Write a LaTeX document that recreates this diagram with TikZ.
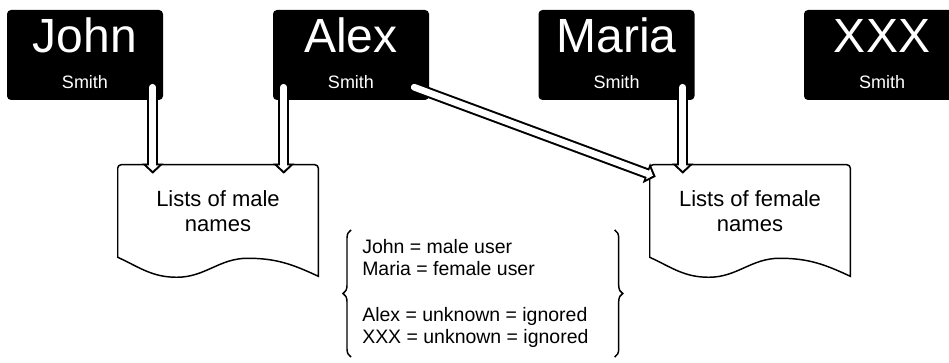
\documentclass[tikz,border=0pt]{standalone}
\usepackage{fontspec}
\setmainfont{Liberation Sans}
\usetikzlibrary{arrows.meta,calc,decorations.pathreplacing}

\tikzset{
	nome/.style={fill=black, text=white, rounded corners=3pt, minimum width=117pt, minimum height=67.5pt,
		inner sep=0pt, text height=26pt, text depth=29pt, font=\fontsize{36}{36}\selectfont},
	sobrenome/.style={text=white, anchor=base, yshift=9pt, font=\fontsize{13.5}{14}\selectfont},
	lista/.style={minimum width=150pt, minimum height=69pt, inner sep=0pt, align=center,
		font=\fontsize{16.5}{19}\selectfont},
	contorno/.style={line width=1.1pt},
	oca/.style={white, line width=5pt, line cap=round, -{Triangle[width=8.5pt,length=4pt]}, shorten >=2.2pt,
		preaction={draw=black, line width=8pt, -{Triangle[width=15.5pt,length=7.5pt]}, shorten >=0pt}},
	chave/.style={decorate, decoration={brace, amplitude=6pt}, line width=1.1pt}
}

\begin{document}
\begin{tikzpicture}[x=0.75pt, y=0.75pt]
	\useasboundingbox (0,0) rectangle (949,-363);
	
	% Caixas dos nomes
	\node[nome, label={[sobrenome]south:Smith}] (john) at (85,-55) {John};
	\node[nome, label={[sobrenome]south:Smith}] (alex) at (351,-55) {Alex};
	\node[nome, label={[sobrenome]south:Smith}] (maria) at (616.5,-55) {Maria};
	\node[nome, label={[sobrenome]south:Smith}] (xxx) at (882,-55) {XXX};
	
	% Listas (documentos)
	\node[lista] (male) at (218,-211) {Lists of male\\names};
	\node[lista] (female) at (750,-211) {Lists of female\\names};
	\foreach \d in {male,female}
		\draw[contorno] (\d.south west) [rounded corners=2.5pt] -- (\d.north west) -- (\d.north east) [sharp corners]
			-- ($(\d.south east)+(0,-19)$) to[out=155,in=0] ($(\d.south west)+(130,-1)$)
			to[out=180,in=0] ($(\d.south west)+(59,-20)$) to[out=180,in=-25] (\d.south west) -- cycle;
	
	% Setas
	\draw[oca] ($(john.south east)+(-10.5,13)$) coordinate (j) -- ([yshift=-6.75pt]j |- male.north);
	\draw[oca] ($(alex.south west)+(11,13)$) coordinate (a) -- ([yshift=-6.75pt]a |- male.north);
	\draw[oca] ($(alex.south east)+(-15,13)$) -- ($(female.north west)+(6,-12)$);
	\draw[oca] ($(maria.south east)+(-12,13)$) coordinate (m) -- ([yshift=-6.75pt]m |- female.north);
	
	% Legenda
	\node[anchor=west, inner sep=0pt, align=left, font=\fontsize{14.6}{16.9}\selectfont] (legenda) at (362,-293.5)
		{John = male user\\Maria = female user\\[16.9pt]Alex = unknown = ignored\\XXX = unknown = ignored};
	\draw[chave] ($(legenda.west)+(-11,-63.5)$) -- ($(legenda.west)+(-11,63.5)$);
	\draw[chave] ($(legenda.east)+(26,63.5)$) -- ($(legenda.east)+(26,-63.5)$);
\end{tikzpicture}
\end{document}
